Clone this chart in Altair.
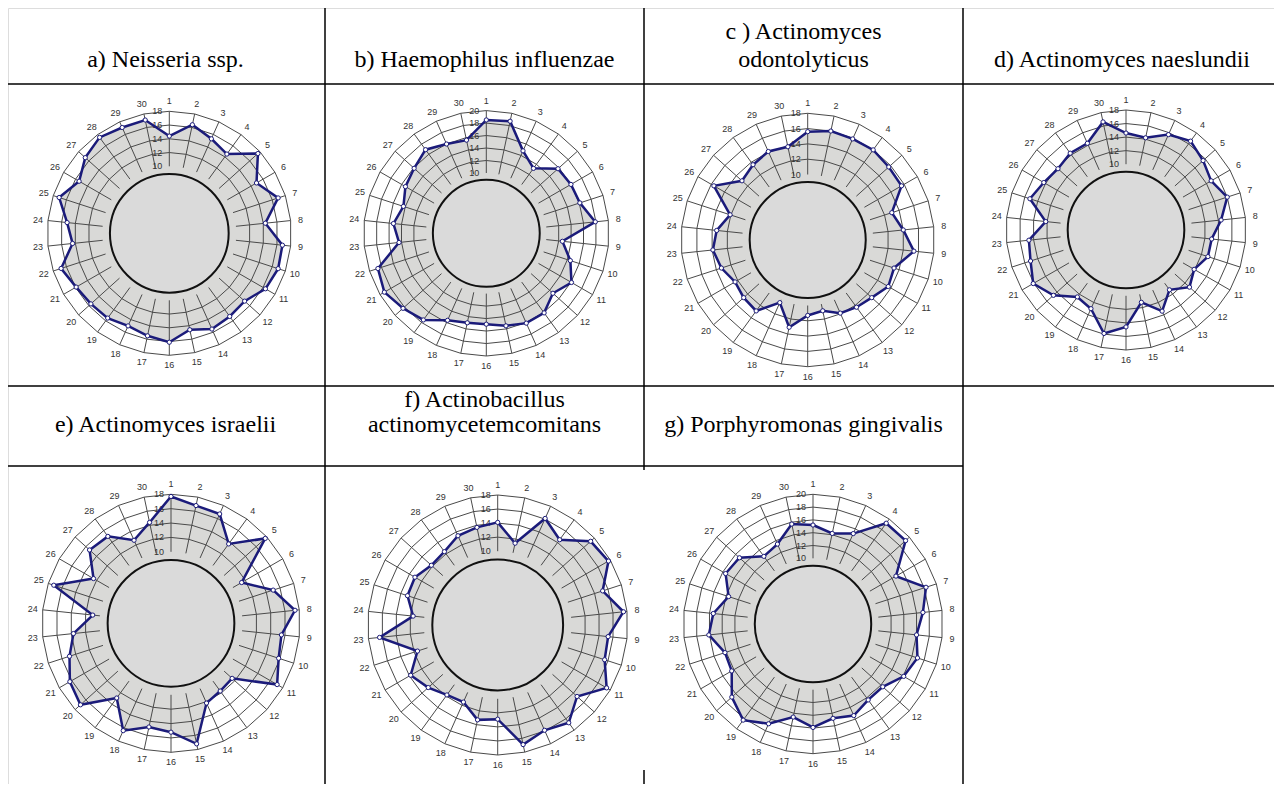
import altair as alt
import pandas as pd
import numpy as np

# ---------------- data ----------------
categories = list(range(1, 31))

panels = ["a", "b", "c", "d", "e", "f", "g"]
titles = [
    "a) Neisseria ssp.",
    "b) Haemophilus influenzae",
    "c ) Actinomyces\nodontolyticus",
    "d) Actinomyces naeslundii",
    "e) Actinomyces israelii",
    "f) Actinobacillus\nactinomycetemcomitans",
    "g) Porphyromonas gingivalis",
]
axis_min = [10, 10, 10, 10, 10, 10, 10]
axis_max = [18, 20, 18, 18, 18, 18, 20]
axis_step = 2

vals_a = [14.4, 16.4, 15.3, 14.5, 17.6, 14.9, 16.9, 14.3, 16.8, 16.9,
          16.4, 15.0, 15.2, 15.5, 14.6, 16.1, 15.5, 15.0, 15.5, 15.6,
          15.9, 16.8, 14.4, 15.2, 17.1, 15.4, 16.7, 17.5, 17.1, 17.1]
vals_b = [18.5, 18.7, 14.8, 13.2, 15.8, 16.0, 16.1, 17.9, 12.6, 14.5,
          16.1, 14.7, 16.1, 16.1, 15.5, 14.9, 15.0, 15.6, 17.5, 18.3,
          19.2, 18.6, 14.4, 15.3, 14.3, 15.3, 15.9, 16.9, 16.0, 15.6]
vals_c = [15.6, 16.0, 15.9, 16.0, 15.7, 15.6, 13.0, 14.0, 15.4, 13.3,
          13.6, 12.7, 12.3, 11.9, 10.9, 11.3, 13.1, 10.4, 12.9, 12.7,
          12.4, 13.3, 13.9, 13.4, 12.1, 15.6, 13.0, 13.6, 14.1, 13.9]
vals_d = [14.6, 14.2, 15.7, 16.5, 15.6, 14.8, 16.0, 14.4, 13.0, 13.0,
          11.9, 12.9, 11.2, 13.4, 11.2, 14.6, 15.9, 13.0, 12.5, 14.7,
          16.1, 15.1, 14.7, 12.2, 15.2, 14.3, 13.8, 14.3, 14.3, 16.6]
vals_e = [17.7, 16.8, 16.7, 13.7, 17.7, 11.4, 15.0, 17.4, 15.5, 15.8,
          17.1, 11.5, 11.7, 12.2, 17.2, 15.2, 14.8, 16.4, 12.9, 17.0,
          16.3, 14.9, 13.7, 11.0, 17.2, 12.5, 15.3, 15.0, 12.7, 14.4]
vals_f = [14.1, 11.4, 16.1, 14.5, 17.3, 17.7, 15.2, 17.5, 15.3, 15.5,
          17.4, 14.7, 16.7, 15.9, 16.9, 12.9, 13.3, 11.5, 11.8, 12.8,
          13.8, 11.5, 16.4, 11.6, 13.0, 13.1, 12.2, 12.4, 13.4, 13.7]
vals_g = [15.2, 14.2, 15.2, 19.2, 19.2, 14.7, 18.3, 17.0, 16.0, 16.9,
          16.1, 14.4, 14.4, 15.4, 14.8, 15.9, 14.6, 16.8, 18.3, 16.8,
          14.4, 14.2, 16.1, 15.4, 13.6, 15.5, 15.2, 12.8, 13.4, 15.7]
series = [vals_a, vals_b, vals_c, vals_d, vals_e, vals_f, vals_g]

# ---------------- layout (pixel positions of the page) ----------------
centers_x = [169.3, 486.3, 807.7, 1126.0, 171.0, 497.7, 813.0]
centers_y = [233.3, 233.3, 240.0, 230.0, 623.3, 625.0, 624.0]
inner_r = [67.0, 60.3, 65.5, 65.8, 71.5, 73.8, 65.7]
outer_r = [122.0, 122.7, 126.7, 120.0, 129.0, 130.0, 129.7]
title_x = [165.5, 484.5, 803.5, 1122.0, 165.5, 484.5, 803.5]
title_y = [67, 67, 67, 67, 432, 432, 432]
title_lh = [28, 28, 28, 28, 25, 25, 25]

table_segments = [  # x, y, x2, y2
    (6, 7, 1281, 7), (6, 84, 1281, 84), (6, 386, 1281, 386), (6, 466, 963, 466),
    (6, 7, 6, 792), (325, 7, 325, 792), (644, 7, 644, 470), (644, 770, 644, 792),
    (963, 7, 963, 792), (1281, 7, 1281, 386),
]

W, H = 1266, 776
X0, Y0 = 8, 8

FILL = "#d9d9d7"
GRID = "#4a4a4a"
NAVY = "#1b1b7a"
SERIF = "Liberation Serif, Times New Roman, DejaVu Serif, serif"
SANS = "Liberation Sans, Arial, DejaVu Sans, sans-serif"

# ---------------- tables ----------------
geo = pd.DataFrame({
    "panel": panels, "cx": centers_x, "cy": centers_y, "r0": inner_r, "r1": outer_r,
    "vmin": axis_min, "vmax": axis_max,
})

rows = []
for p, vals in zip(panels, series):
    for k, v in zip(categories, vals):
        rows.append({"panel": p, "k": k, "v": v})
data_df = pd.DataFrame(rows).merge(geo, on="panel")

ring_rows = []
for p, lo, hi in zip(panels, axis_min, axis_max):
    for ring in range(lo + axis_step, hi + 1, axis_step):
        for k in categories:
            ring_rows.append({"panel": p, "ring": ring, "k": k, "v": ring})
ring_df = pd.DataFrame(ring_rows).merge(geo, on="panel")
ring_df["grp"] = ring_df["panel"] + ring_df["ring"].astype(str)

lab_rows = []
for p, lo, hi in zip(panels, axis_min, axis_max):
    for ring in range(lo, hi + 1, axis_step):
        lab_rows.append({"panel": p, "k": 1, "v": ring, "label": str(ring)})
ringlab_df = pd.DataFrame(lab_rows).merge(geo, on="panel")

spoke_df = pd.DataFrame([{"panel": p, "k": k} for p in panels for k in categories]).merge(geo, on="panel")
spoke_df["label"] = spoke_df["k"].astype(str)

circle_df = geo.copy()
circle_df["size"] = np.pi * circle_df["r0"] ** 2

head_rows = []
for t, tx, ty, lh in zip(titles, title_x, title_y, title_lh):
    lines = t.split("\n")
    n = len(lines)
    for i, line in enumerate(lines):
        head_rows.append({"text": line, "x": tx, "y": ty - (n - 1 - i) * lh})
head_df = pd.DataFrame(head_rows)

seg_df = pd.DataFrame(table_segments, columns=["x", "y", "x2", "y2"])

# ---------------- scales ----------------
xs = alt.Scale(domain=[X0, X0 + W], nice=False, zero=False)
ys = alt.Scale(domain=[Y0, Y0 + H], nice=False, zero=False, reverse=True)
X = lambda f: alt.X(f, type="quantitative", scale=xs, axis=None)
Y = lambda f: alt.Y(f, type="quantitative", scale=ys, axis=None)

ANG = "(datum.k - 1) * 12 * PI / 180"
RAD = "datum.r0 + (datum.v - datum.vmin) / (datum.vmax - datum.vmin) * (datum.r1 - datum.r0)"


def polar(chart):
    return chart.transform_calculate(
        ang=ANG, rad=RAD
    ).transform_calculate(
        px="datum.cx + datum.rad * sin(datum.ang)",
        py="datum.cy - datum.rad * cos(datum.ang)",
    )


# filled data area
fill = polar(alt.Chart(data_df).mark_line(
    filled=True, interpolate="linear-closed", fill=FILL, stroke=None, opacity=1
)).encode(x=X("px"), y=Y("py"), detail="panel:N", order="k:Q")

# grid rings
rings = polar(alt.Chart(ring_df).mark_line(
    interpolate="linear-closed", color=GRID, strokeWidth=1
)).encode(x=X("px"), y=Y("py"), detail="grp:N", order="k:Q")

# spokes
spokes = alt.Chart(spoke_df).mark_rule(color=GRID, strokeWidth=1).transform_calculate(
    ang=ANG
).transform_calculate(
    sx="datum.cx + datum.r0 * sin(datum.ang)",
    sy="datum.cy - datum.r0 * cos(datum.ang)",
    ex="datum.cx + datum.r1 * sin(datum.ang)",
    ey="datum.cy - datum.r1 * cos(datum.ang)",
).encode(x=X("sx"), y=Y("sy"), x2="ex:Q", y2="ey:Q")

# ring value labels
ring_labels = polar(alt.Chart(ringlab_df).mark_text(
    font=SANS, fontSize=9, color="#333333", align="right", baseline="middle", dx=-7
)).encode(x=X("px"), y=Y("py"), text="label:N")

# category labels
cat_labels = alt.Chart(spoke_df).mark_text(
    font=SANS, fontSize=9, color="#333333", align="center", baseline="middle"
).transform_calculate(
    ang=ANG
).transform_calculate(
    lx="datum.cx + (datum.r1 + 10) * sin(datum.ang)",
    ly="datum.cy - (datum.r1 + 10) * cos(datum.ang)",
).encode(x=X("lx"), y=Y("ly"), text="label:N")

# inner circle
inner = alt.Chart(circle_df).mark_point(
    shape="circle", filled=True, fill="#dadada", stroke="#111111", strokeWidth=2, opacity=1
).encode(x=X("cx"), y=Y("cy"), size=alt.Size("size:Q", scale=None, legend=None))

# data line and markers
line = polar(alt.Chart(data_df).mark_line(
    interpolate="linear-closed", color=NAVY, strokeWidth=2.5
)).encode(x=X("px"), y=Y("py"), detail="panel:N", order="k:Q")

pts = polar(alt.Chart(data_df).mark_point(
    shape="circle", filled=True, fill="white", stroke=NAVY, strokeWidth=1, size=18, opacity=1
)).encode(x=X("px"), y=Y("py"))

# headers
heads = alt.Chart(head_df).mark_text(
    font=SERIF, fontSize=24, color="black", align="center", baseline="alphabetic"
).encode(x=X("x"), y=Y("y"), text="text:N")

# table lines
table = alt.Chart(seg_df).mark_rule(color="black", strokeWidth=1.5).encode(
    x=X("x"), y=Y("y"), x2="x2:Q", y2="y2:Q"
)

chart = alt.layer(
    fill, rings, spokes, ring_labels, cat_labels, inner, line, pts, heads, table
).properties(
    width=W, height=H, autosize=alt.AutoSizeParams(type="none"), padding=0
).configure_view(stroke=None).configure(background="white")

chart.save("out.html", embed_options={"renderer": "svg", "actions": False})
